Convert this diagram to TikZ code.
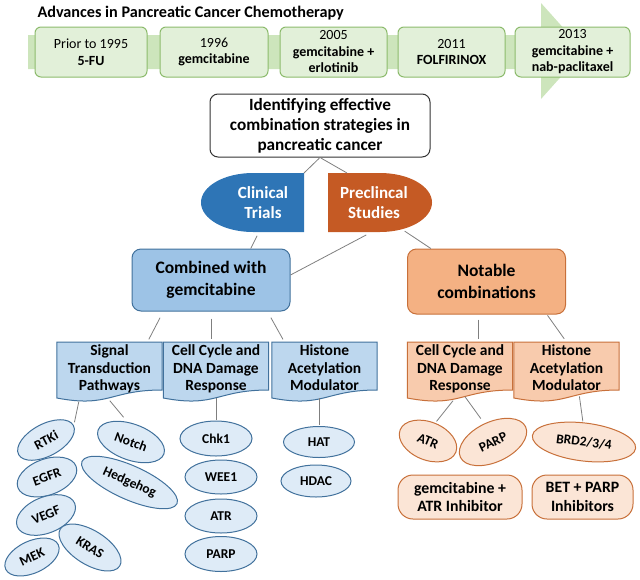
\documentclass[tikz,border=0pt]{standalone}
\usepackage{fontspec}
\setmainfont{Carlito}
\usetikzlibrary{shapes.geometric,backgrounds,calc}

\definecolor{grnfill}{HTML}{E2F0D9}
\definecolor{grnline}{HTML}{8CBB6C}
\definecolor{grnarrow}{HTML}{CDE5BC}
\definecolor{clinblue}{HTML}{2E75B6}
\definecolor{preorange}{HTML}{C55A24}
\definecolor{bluemid}{HTML}{9DC3E6}
\definecolor{bluedoc}{HTML}{BDD7EE}
\definecolor{bluepale}{HTML}{DEEBF7}
\definecolor{blueline}{HTML}{41719C}
\definecolor{orgmid}{HTML}{F4B183}
\definecolor{orgdoc}{HTML}{F8CBAD}
\definecolor{orgpale}{HTML}{FBE5D6}
\definecolor{orgline}{HTML}{C8703A}
\definecolor{linkgray}{HTML}{7F7F7F}

\newcommand{\fsz}[2]{\fontsize{#1}{#2}\selectfont}
% office style "document" outline behind a text node
\newcommand{\docshape}[2]{%
  \filldraw[#2] (#1.north west) -- (#1.north east) -- ($(#1.north east)+(0,48)$)
    .. controls ($(#1.north)+(0,48)$) and ($(#1.north)+(0,66)$) .. ($(#1.north west)+(0,56)$) -- cycle;}

\begin{document}
\begin{tikzpicture}[x=1pt,y=-1pt,font=\fsz{13.5}{15}\bfseries,
  link/.style={draw=linkgray,line width=0.8pt},
  yearbox/.style={draw=grnline,fill=grnfill,rounded corners=6pt,line width=1pt,
    minimum height=50,align=center,inner sep=1pt,font=\fsz{14}{16.5}\mdseries},
  goalbox/.style={draw=black!80,fill=white,rounded corners=8pt,line width=1pt,
    minimum width=220,minimum height=63,align=center,font=\fsz{17.2}{20}\bfseries},
  whitelbl/.style={text=white,align=center,font=\fsz{17}{20.5}\bfseries},
  catbox/.style={rounded corners=9pt,line width=1pt,minimum width=158,minimum height=62,
    align=center,font=\fsz{17.5}{22}\bfseries},
  docbox/.style={anchor=north,minimum width=105,inner ysep=2.5pt,inner xsep=1pt,
    align=center,font=\fsz{15.5}{17.5}\bfseries},
  bluedoc/.style={draw=blueline,fill=bluedoc,line width=1pt},
  orgdoc/.style={draw=orgline,fill=orgdoc,line width=1pt},
  bell/.style={ellipse,draw=blueline,fill=bluepale,line width=1pt,inner sep=0pt},
  oell/.style={ellipse,draw=orgline,fill=orgpale,line width=1pt,inner sep=0pt},
  pill/.style={draw=orgline,fill=orgpale,line width=1pt,rounded corners=15pt,
    minimum height=44,align=center,font=\fsz{15.8}{18.5}\bfseries},
]
\useasboundingbox (0,0) rectangle (640,579);

% timeline
\node[anchor=west,font=\fsz{16.2}{20}\bfseries] (title) at (34,13)
  {Advances in Pancreatic Cancer Chemotherapy};
\fill[grnarrow] (28,35) -- (541,35) -- (541,3) -- (584,51) -- (541,99) -- (541,69) -- (28,69) -- cycle;
\node[yearbox,minimum width=112] (y1995) at (91,52) {Prior to 1995\\\textbf{5-FU}};
\node[yearbox,minimum width=108] (y1996) at (214,52) {1996\\\textbf{gemcitabine}};
\node[yearbox,minimum width=107] (y2005) at (333.5,52) {2005\\\textbf{gemcitabine +}\\\textbf{erlotinib}};
\node[yearbox,minimum width=107] (y2011) at (451.5,52) {2011\\\textbf{FOLFIRINOX}};
\node[yearbox,minimum width=115] (y2013) at (572.5,52) {2013\\\textbf{gemcitabine +}\\\textbf{nab-paclitaxel}};

% question and the two routes
\node[goalbox] (goal) at (320,125.5) {Identifying effective\\combination strategies in\\pancreatic cancer};

\coordinate (clinNE) at (304,173);
\coordinate (clinS) at (258,234);
\coordinate (preN) at (347,173);
\coordinate (preS) at (368,234);
\coordinate (preSE) at (403,230);
\fill[clinblue] (clinNE) -- (253,173) arc[start angle=270,end angle=90,x radius=52,y radius=29.5] -- (304,232) -- cycle;
\fill[preorange] (328,173) -- (380,173) arc[start angle=270,end angle=450,x radius=52,y radius=29.5] -- (328,232) -- cycle;
\node[whitelbl] (clin) at (263,202.5) {Clinical\\Trials};
\node[whitelbl] (precl) at (374,202.5) {Preclincal\\Studies};

\draw[link,shorten <=1pt] (goal.south) -- (clinNE);
\draw[link,shorten <=1pt] (goal.south) -- (preN);

\node[catbox,draw=blueline,fill=bluemid] (comb) at (211,280) {Combined with\\gemcitabine};
\node[catbox,draw=orgline,fill=orgmid,minimum height=65] (nota) at (486.5,281.5) {Notable\\combinations};

\draw[link,shorten <=2pt] (clinS) -- ($(comb.north west)!0.75!(comb.north east)$);
\draw[link,shorten <=2pt] (preS) -- ([yshift=5pt]comb.east);
\draw[link,shorten <=2pt] (preSE) -- ($(nota.north west)!0.15!(nota.north east)$);

% second level
\node[docbox] (sig) at (109.5,342) {Signal\\Transduction\\Pathways};
\node[docbox] (cellb) at (216,342) {Cell Cycle and\\DNA Damage\\Response};
\node[docbox] (hist) at (324.5,342) {Histone\\Acetylation\\Modulator};
\node[docbox] (ocell) at (460,342) {Cell Cycle and\\DNA Damage\\Response};
\node[docbox] (ohist) at (566.5,342) {Histone\\Acetylation\\Modulator};
\begin{scope}[on background layer]
  \docshape{sig}{bluedoc}
  \docshape{cellb}{bluedoc}
  \docshape{hist}{bluedoc}
  \docshape{ocell}{orgdoc}
  \docshape{ohist}{orgdoc}
\end{scope}

\draw[link,shorten <=7pt,shorten >=3pt] ($(comb.south west)!0.2!(comb.south east)$) -- ($(sig.north west)!0.86!(sig.north east)$);
\draw[link,shorten <=7pt,shorten >=3pt] (comb.south) -- (comb.south |- cellb.north);
\draw[link,shorten <=7pt,shorten >=3pt] ($(comb.south west)!0.855!(comb.south east)$) -- ($(hist.north west)!0.12!(hist.north east)$);
\coordinate (notaS) at ($(nota.south west)!0.45!(nota.south east)$);
\draw[link,shorten <=5pt,shorten >=3pt] (notaS) -- (notaS |- ocell.north);
\draw[link,shorten <=1pt,shorten >=4pt] ($(nota.south west)!0.88!(nota.south east)$) -- (ohist.north);

% targets, gemcitabine side
\node[bell,minimum width=62,minimum height=32,rotate=28] (rtki) at (46,440) {RTKi};
\node[bell,minimum width=70,minimum height=36,rotate=-20] (notch) at (131,442) {Notch};
\node[bell,minimum width=62,minimum height=36,rotate=20] (egfr) at (47,477) {EGFR};
\node[bell,minimum width=104,minimum height=34,rotate=-24] (hedge) at (129.5,482.5) {Hedgehog};
\node[bell,minimum width=62,minimum height=36,rotate=22] (vegf) at (46,515) {VEGF};
\node[bell,minimum width=58,minimum height=32,rotate=25] (mek) at (32,557) {MEK};
\node[bell,minimum width=70,minimum height=34,rotate=-32] (kras) at (90,547.5) {KRAS};

\node[bell,minimum width=72,minimum height=35] (chk1) at (216,438.5) {Chk1};
\node[bell,minimum width=72,minimum height=34] (wee1) at (221,477) {WEE1};
\node[bell,minimum width=72,minimum height=34] (atr) at (221,516) {ATR};
\node[bell,minimum width=72,minimum height=35] (parp) at (221,554) {PARP};

\node[bell,minimum width=71,minimum height=31] (hat) at (319,442) {HAT};
\node[bell,minimum width=70,minimum height=32] (hdac) at (316,481) {HDAC};

\draw[link,shorten >=3pt] ($(sig.south west)+(22,6)$) -- (rtki.east);
\draw[link,shorten >=6pt] ($(sig.south west)+(53,5)$) -- (notch.120);
\draw[link,shorten <=2pt,shorten >=1pt] (cellb.south) -- (chk1.north);
\draw[link,shorten <=5pt,shorten >=1pt] (hat.north |- hist.south) -- (hat.north);

% targets, notable side
\node[oell,minimum width=60,minimum height=38,rotate=-22] (oatr) at (428,441) {ATR};
\node[oell,minimum width=72,minimum height=40,rotate=25] (oparp) at (493,442) {PARP};
\node[oell,minimum width=104,minimum height=38,rotate=-7] (brd) at (584,442) {BRD2/3/4};
\node[pill,minimum width=124] (gematr) at (460,497) {gemcitabine +\\ATR Inhibitor};
\node[pill,minimum width=101] (betparp) at (582.5,497) {BET + PARP\\Inhibitors};

\draw[link,shorten >=2pt] ($(ocell.south)+(-7,5)$) -- (oatr.north);
\draw[link,shorten >=6pt] ($(ocell.south)+(5,1)$) -- (oparp.north);
\draw[link,shorten <=3pt,shorten >=1pt] ($(ohist.south)+(12.5,0)$) -- (brd.100);

\end{tikzpicture}
\end{document}
